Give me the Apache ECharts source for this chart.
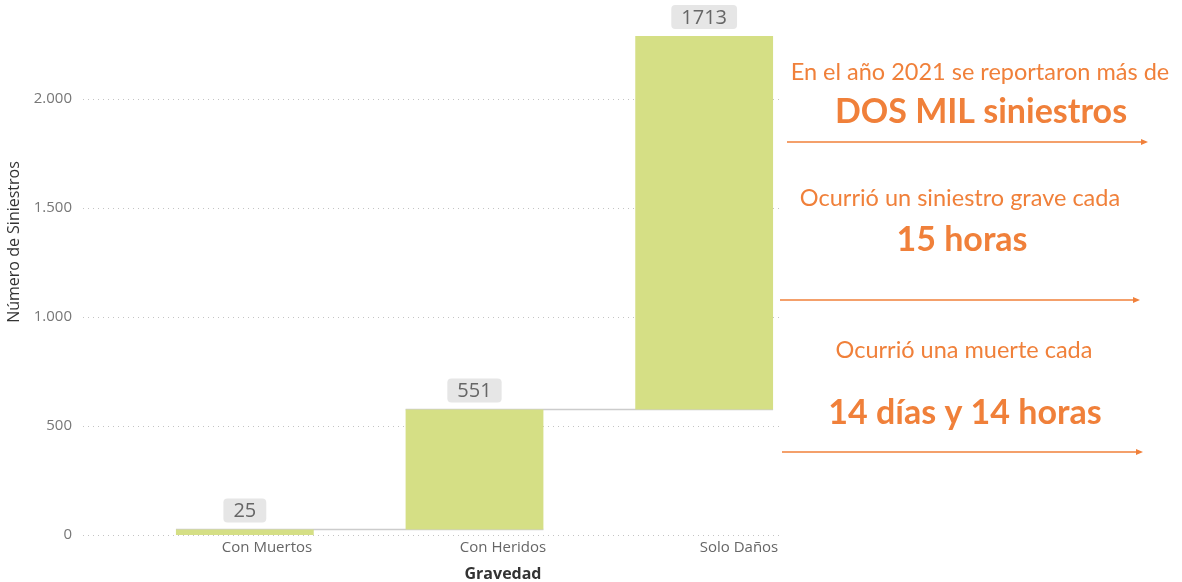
<!DOCTYPE html>
<html>
<head>
<meta charset="utf-8">
<script src="https://cdn.jsdelivr.net/npm/echarts@6/dist/echarts.min.js"></script>
<style>
  html, body { margin: 0; padding: 0; background: #fff; }
  #chart { width: 1182px; height: 582px; }
</style>
</head>
<body>
<div id="chart"></div>
<script>
// data
const categories = ["Con Muertos", "Con Heridos", "Solo Daños"];
const values = [25, 551, 1713];
const yTicks = [0, 500, 1000, 1500, 2000];

// waterfall bases (running total before each step)
const bases = [];
let run = 0;
values.forEach((v) => { bases.push(run); run += v; });
// connector levels between step i and i+1
const connectors = [];
for (let i = 0; i < values.length - 1; i++) {
  connectors.push([i, bases[i] + values[i]]);
}

const barRatio = 0.6; // bar width over category width
const orange = "#F0803A";
const font = "'Open Sans', sans-serif";
const yMax = 2450;

const chart = echarts.init(document.getElementById("chart"));

const fmt = (v) => String(v).replace(/\B(?=(\d{3})+(?!\d))/g, ".");

function arrow(x1, x2, y) {
  return [
    { type: "line", shape: { x1: x1, y1: y, x2: x2 - 3, y2: y }, style: { stroke: orange, lineWidth: 1.5 } },
    { type: "polygon", shape: { points: [[x2 - 7, y - 3], [x2, y], [x2 - 7, y + 3]] }, style: { fill: orange } },
  ];
}

function txt(x, y, text, size, bold) {
  return {
    type: "text", x: x, y: y,
    style: {
      text: text, fill: orange, align: "center", verticalAlign: "middle",
      font: (bold ? "bold " : "") + size + "px Lato, sans-serif",
    },
  };
}

const option = {
  animation: false,
  grid: [
    { left: 130, width: 689, top: 1, bottom: 47, outerBoundsMode: "none" }, // bars
    { left: 83, width: 700, top: 1, bottom: 47, outerBoundsMode: "none" },  // gridlines + y labels
    { left: 149, width: 708, top: 1, bottom: 47, outerBoundsMode: "none" }, // x labels
  ],
  xAxis: [
    { type: "category", gridIndex: 0, data: categories, show: false },
    { type: "value", gridIndex: 1, min: 0, max: 1, show: false },
    {
      type: "category", gridIndex: 2, data: categories,
      axisLine: { show: false }, axisTick: { show: false },
      axisLabel: { color: "#666", fontSize: 15, margin: 5, fontFamily: font },
      name: "Gravedad", nameLocation: "middle", nameGap: 31,
      nameTextStyle: { color: "#333", fontSize: 16, fontWeight: "bold", fontFamily: font },
    },
  ],
  yAxis: [
    { type: "value", gridIndex: 0, min: 0, max: yMax, show: false },
    {
      type: "value", gridIndex: 1, min: 0, max: yMax, interval: 500,
      axisLine: { show: false }, axisTick: { show: false },
      axisLabel: {
        color: "#777", fontSize: 15, margin: 11, fontFamily: font,
        formatter: (v) => (yTicks.indexOf(v) >= 0 ? fmt(v) : ""),
      },
      splitLine: { showMaxLine: false, lineStyle: { color: "#c4c4c4", type: [1, 4], width: 1 } },
      name: "Número de Siniestros", nameLocation: "middle", nameGap: 55,
      nameTextStyle: { color: "#333", fontSize: 16, fontFamily: font, padding: [0, 0, 0, 52] },
    },
    { type: "value", gridIndex: 2, min: 0, max: yMax, show: false },
  ],
  series: [
    {
      type: "custom", xAxisIndex: 0, yAxisIndex: 0, z: 1,
      data: connectors,
      renderItem: function (params, api) {
        const i = api.value(0), lvl = api.value(1);
        const half = api.size([1, 0])[0] * barRatio / 2;
        const p1 = api.coord([i, lvl]);
        const p2 = api.coord([i + 1, lvl]);
        return {
          type: "line",
          shape: { x1: p1[0] - half, y1: p1[1], x2: p2[0] + half, y2: p2[1] },
          style: { stroke: "#cccccc", lineWidth: 1.5 },
        };
      },
    },
    {
      type: "bar", stack: "w", xAxisIndex: 0, yAxisIndex: 0, z: 2,
      barWidth: barRatio * 100 + "%",
      itemStyle: { color: "transparent" },
      data: bases,
    },
    {
      type: "bar", stack: "w", xAxisIndex: 0, yAxisIndex: 0, z: 2,
      barWidth: barRatio * 100 + "%",
      itemStyle: { color: "#D5DF85" },
      label: {
        show: true, position: "top", distance: 7,
        color: "#666", fontSize: 20, fontFamily: font,
        backgroundColor: "#e6e6e6", borderRadius: 4, padding: [3, 10, 1, 10],
      },
      data: values,
    },
  ],
  graphic: [
    txt(980, 72, "En el año 2021 se reportaron más de", 23.5, false),
    txt(981, 112, "DOS MIL siniestros", 34, true),
    ...arrow(787, 1148, 142),
    txt(960, 198, "Ocurrió un siniestro grave cada", 23.5, false),
    txt(962, 240, "15 horas", 34, true),
    ...arrow(780, 1140, 300),
    txt(964, 350, "Ocurrió una muerte cada", 23.5, false),
    txt(965, 413, "14 días y 14 horas", 34, true),
    ...arrow(782, 1143, 452),
  ],
};

chart.setOption(option);
window.addEventListener("resize", () => chart.resize());
</script>
</body>
</html>
